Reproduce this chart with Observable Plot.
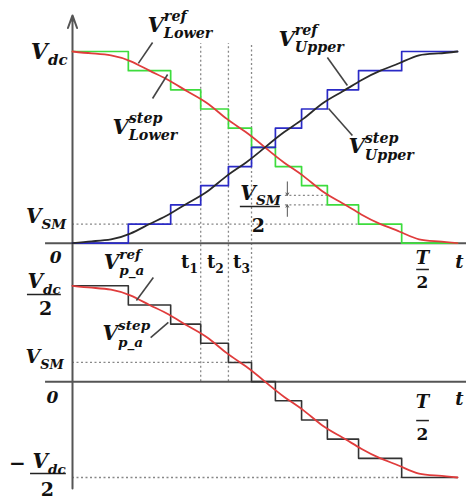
<!DOCTYPE html>
<html><head><meta charset="utf-8">
<script src="https://cdn.jsdelivr.net/npm/d3@7"></script>
<script src="https://cdn.jsdelivr.net/npm/@observablehq/plot@0.6"></script>
<style>body{margin:0;background:#fff} svg{display:block}</style>
</head><body><div id="chart"></div>
<script>
// ---------- data (time as fraction of T/2, voltage in units of V_SM) ----------
const switchTimes = [0.145, 0.255, 0.333, 0.405, 0.465, 0.527, 0.595, 0.662, 0.743, 0.855];
const lowerLevels = [10, 9, 8, 7, 6, 5, 4, 3, 2, 1, 0];
const upperLevels = [0, 1, 2, 3, 4, 5, 6, 7, 8, 9, 10];
const phaseLevels = [5, 4, 3, 2, 1, 0, -1, -2, -3, -4, -5];
const refTimes = [0, 0.05, 0.1, 0.15, 0.2, 0.25, 0.3, 0.35, 0.4, 0.45, 0.5, 0.55, 0.6, 0.65, 0.7, 0.75, 0.8, 0.85, 0.9, 0.95, 1];
const lowerRef = [10, 9.9, 9.8, 9.5, 9.0, 8.5, 7.9, 7.3, 6.5, 5.8, 5.0, 4.2, 3.5, 2.7, 2.1, 1.5, 1.0, 0.6, 0.2, 0.1, 0];
const upperRef = [0, 0.1, 0.2, 0.5, 1.0, 1.5, 2.1, 2.7, 3.5, 4.2, 5.0, 5.8, 6.5, 7.3, 7.9, 8.5, 9.0, 9.4, 9.8, 9.9, 10];
const phaseRef = [5, 4.9, 4.8, 4.5, 4.0, 3.5, 2.9, 2.3, 1.5, 0.8, 0, -0.8, -1.5, -2.3, -2.9, -3.5, -4.0, -4.4, -4.8, -4.9, -5];
const timeLabels = ["t_{1}", "t_{2}", "t_{3}"];

// layout constant: vertical offset of the upper panel (in V_SM units)
const TOP = 7.22;

const GREEN = "#3ddc3d", BLUE = "#2a2ac6", RED = "#e03c3c", DARK = "#2a2a2a", AXIS = "#555", GUIDE = "#888";

function stepData(levels, off) {
  const pts = levels.map((v, i) => ({t: i === 0 ? 0 : switchTimes[i - 1], v: v + off}));
  pts.push({t: 1, v: levels[levels.length - 1] + off});
  return pts;
}
function refData(vals, off) { return refTimes.map((t, i) => ({t, v: vals[i] + off})); }

const hGuides = [
  {y: TOP + 1, x1: 0, x2: switchTimes[8]},
  {y: TOP + 2.5, x1: 0.553, x2: switchTimes[7]},
  {y: TOP + 2, x1: 0.553, x2: switchTimes[7]},
  {y: 1, x1: 0, x2: switchTimes[4]},
  {y: -5, x1: 0, x2: switchTimes[9]}
];
const vGuides = [
  {x: switchTimes[2], y1: 0, y2: 17.64},
  {x: switchTimes[3], y1: 0, y2: 17.64},
  {x: switchTimes[4], y1: 1, y2: 17.64}
];
const axesH = [{y: TOP, x1: -0.07, x2: 1.03}, {y: 0, x1: -0.07, x2: 1.03}];
const axisV = [{x: 0, y1: -5.57, y2: 19.1}];
const smallArrows = [{x: 0.558, y1: TOP + 3.2, y2: TOP + 2.5}, {x: 0.558, y1: TOP + 1.4, y2: TOP + 2}];
const leaders = [
  {x1: 0.208, y1: 17.69, x2: 0.171, y2: 16.60},
  {x1: 0.247, y1: 16.02, x2: 0.208, y2: 14.77},
  {x1: 0.662, y1: 16.91, x2: 0.714, y2: 15.45},
  {x1: 0.665, y1: 14.25, x2: 0.727, y2: 12.84},
  {x1: 0.210, y1: 5.43, x2: 0.166, y2: 4.23},
  {x1: 0.203, y1: 2.30, x2: 0.249, y2: 3.09}
];
const bars = [
  {y: 9.13, x1: 0.436, x2: 0.540},
  {y: 5.85, x1: 0.894, x2: 0.927},
  {y: -2.03, x1: 0.894, x2: 0.927},
  {y: 4.55, x1: -0.117, x2: -0.029},
  {y: -4.79, x1: -0.109, x2: -0.016}
];

const labels = [
  // italic, start
  {x: 0.195, y: TOP + 11.04, text: "V^{ref}_{Lower}", size: 21, a: "start", it: true},
  {x: 0.104, y: TOP + 5.72, text: "V^{step}_{Lower}", size: 21, a: "start", it: true},
  {x: 0.535, y: TOP + 10.31, text: "V^{ref}_{Upper}", size: 21, a: "start", it: true},
  {x: 0.717, y: TOP + 4.68, text: "V^{step}_{Upper}", size: 21, a: "start", it: true},
  {x: 0.436, y: 9.50, text: "V_{SM}", size: 20, a: "start", it: true},
  {x: 0.081, y: 5.90, text: "V^{ref}_{p_a}", size: 20, a: "start", it: true},
  {x: 0.078, y: 2.15, text: "V^{step}_{p_a}", size: 20, a: "start", it: true},
  {x: -0.117, y: 4.86, text: "V_{dc}", size: 20, a: "start", it: true},
  {x: -0.122, y: 0.95, text: "V_{SM}", size: 19, a: "start", it: true},
  {x: -0.104, y: -4.53, text: "V_{dc}", size: 20, a: "start", it: true},
  // italic, end
  {x: -0.013, y: 16.85, text: "V_{dc}", size: 22, a: "end", it: true},
  {x: -0.016, y: 8.25, text: "V_{SM}", size: 20, a: "end", it: true},
  // italic, middle
  {x: -0.044, y: 6.21, text: "0", size: 17, a: "middle", it: true},
  {x: -0.052, y: -1.14, text: "0", size: 17, a: "middle", it: true},
  {x: 0.909, y: 6.16, text: "T", size: 18, a: "middle", it: true},
  {x: 0.909, y: -1.40, text: "T", size: 18, a: "middle", it: true},
  {x: 1.005, y: 5.95, text: "t", size: 18, a: "middle", it: true},
  {x: 1.005, y: -1.24, text: "t", size: 18, a: "middle", it: true},
  // upright, middle
  {x: 0.304, y: 5.95, text: timeLabels[0], size: 18, a: "middle", it: false},
  {x: 0.371, y: 5.95, text: timeLabels[1], size: 18, a: "middle", it: false},
  {x: 0.439, y: 5.95, text: timeLabels[2], size: 18, a: "middle", it: false},
  {x: 0.483, y: 7.78, text: "2", size: 19, a: "middle", it: false},
  {x: 0.909, y: 4.86, text: "2", size: 17, a: "middle", it: false},
  {x: 0.909, y: -3.07, text: "2", size: 17, a: "middle", it: false},
  {x: -0.070, y: 3.45, text: "2", size: 19, a: "middle", it: false},
  {x: -0.065, y: -5.94, text: "2", size: 19, a: "middle", it: false},
  {x: -0.143, y: -4.63, text: "\u2212", size: 20, a: "middle", it: false}
];

function labelMarks() {
  const groups = d3.groups(labels, d => d.a + "|" + d.it);
  return groups.map(([key, list]) => Plot.text(list, {
    x: "x", y: "y", text: "text", fontSize: "size",
    textAnchor: list[0].a, lineAnchor: "bottom",
    fontStyle: list[0].it ? "italic" : "normal", fontWeight: "bold",
    fontFamily: "DejaVu Serif", fill: "#111"
  }));
}

const svg = Plot.plot({
  width: 466, height: 501, margin: 0,
  x: {domain: [0, 1], range: [72, 457], axis: null},
  y: {domain: [-5, TOP + 10], range: [477, 51], axis: null},
  style: {background: "white", fontFamily: "DejaVu Serif"},
  marks: [
    Plot.ruleY(hGuides, {y: "y", x1: "x1", x2: "x2", stroke: GUIDE, strokeWidth: 1.3, strokeDasharray: "2,2.5"}),
    Plot.ruleX(vGuides, {x: "x", y1: "y1", y2: "y2", stroke: GUIDE, strokeWidth: 1.3, strokeDasharray: "2,2.5"}),
    Plot.ruleY(axesH, {y: "y", x1: "x1", x2: "x2", stroke: AXIS, strokeWidth: 2}),
    Plot.arrow(axisV, {x1: "x", x2: "x", y1: "y1", y2: "y2", stroke: AXIS, strokeWidth: 2, headLength: 10, headAngle: 40}),
    Plot.arrow(smallArrows, {x1: "x", x2: "x", y1: "y1", y2: "y2", stroke: "#555", strokeWidth: 1, headLength: 4, headAngle: 60}),
    Plot.line(stepData(lowerLevels, TOP), {x: "t", y: "v", curve: "step-after", stroke: GREEN, strokeWidth: 1.7}),
    Plot.line(stepData(upperLevels, TOP), {x: "t", y: "v", curve: "step-after", stroke: BLUE, strokeWidth: 1.7}),
    Plot.line(stepData(phaseLevels, 0), {x: "t", y: "v", curve: "step-after", stroke: "#333", strokeWidth: 1.6}),
    Plot.line(refData(lowerRef, TOP), {x: "t", y: "v", curve: "natural", stroke: RED, strokeWidth: 1.8}),
    Plot.line(refData(upperRef, TOP), {x: "t", y: "v", curve: "natural", stroke: DARK, strokeWidth: 1.8}),
    Plot.line(refData(phaseRef, 0), {x: "t", y: "v", curve: "natural", stroke: RED, strokeWidth: 1.8}),
    Plot.link(leaders, {x1: "x1", y1: "y1", x2: "x2", y2: "y2", stroke: "#444", strokeWidth: 1.6}),
    Plot.ruleY(bars, {y: "y", x1: "x1", x2: "x2", stroke: "#222", strokeWidth: 1.5}),
    ...labelMarks()
  ]
});
document.getElementById("chart").append(svg);

// turn "V^{sup}_{sub}" into real sub/superscript tspans
const NS = "http://www.w3.org/2000/svg";
function richify(el) {
  const s = el.textContent;
  const m = s.match(/^([^_^]*)(?:\^\{([^}]*)\})?(?:_\{([^}]*)\})?$/);
  if (!m || (!m[2] && !m[3])) return;
  const S = parseFloat(getComputedStyle(el).fontSize);
  el.textContent = "";
  const add = (txt, attrs) => {
    const t = document.createElementNS(NS, "tspan");
    t.textContent = txt;
    for (const k in attrs) t.setAttribute(k, attrs[k]);
    el.appendChild(t);
    return t;
  };
  add(m[1], {});
  const small = 0.68 * S;
  if (m[2]) {
    const sup = add(m[2], {"font-size": small, dy: -0.5 * S});
    if (m[3]) {
      const w = sup.getComputedTextLength();
      add(m[3], {"font-size": small, dx: -w, dy: 0.82 * S});
    }
  } else {
    add(m[3], {"font-size": small, dy: 0.28 * S});
  }
}
svg.querySelectorAll("text").forEach(el => {
  if (/[_^]\{/.test(el.textContent)) richify(el);
});
</script>
</body></html>
